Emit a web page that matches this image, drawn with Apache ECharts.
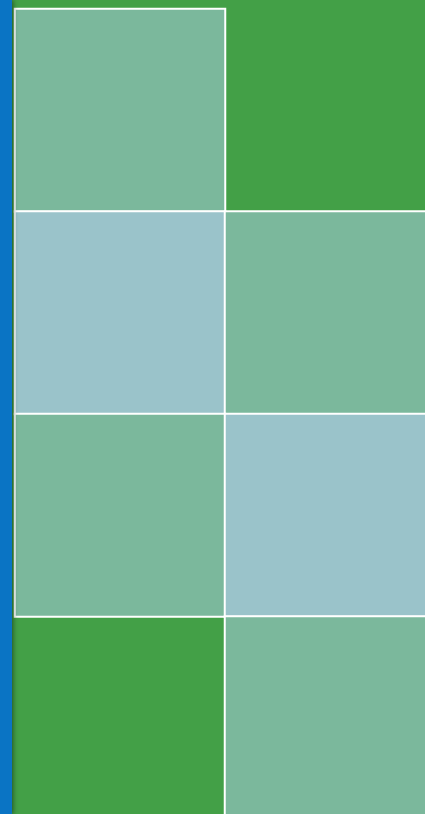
<!DOCTYPE html>
<html><head><meta charset="utf-8">
<script src="https://cdn.jsdelivr.net/npm/echarts@6/dist/echarts.min.js"></script>
<style>html,body{margin:0;padding:0;background:#43a047;}#c{width:425px;height:814px;}</style>
</head><body><div id="c"></div>
<script>
const xCategories = ['A', 'B'];
const yCategories = ['R1', 'R2', 'R3', 'R4'];
// [xIndex, yIndex, value]; value 1 = green class, 2 = blue class; missing cells are empty
const cellValues = [
  [0, 0, 1],
  [0, 1, 2], [1, 1, 1],
  [0, 2, 1], [1, 2, 2],
  [1, 3, 1]
];
const chart = echarts.init(document.getElementById('c'));
chart.setOption({
  backgroundColor: '#43a047',
  animation: false,
  grid: { left: 15, top: 9, width: 420, height: 810, outerBoundsMode: 'none', containLabel: false },
  xAxis: { type: 'category', data: xCategories, show: false },
  yAxis: { type: 'category', data: yCategories, inverse: true, show: false },
  visualMap: {
    show: false, type: 'piecewise',
    pieces: [ { value: 1, color: '#7bb89c' }, { value: 2, color: '#9ac3ca' } ]
  },
  graphic: [{
    type: 'rect', left: 0, top: 0, z: 100,
    shape: { width: 12, height: 814 },
    style: { fill: '#0a74c4', shadowBlur: 5, shadowOffsetX: 1, shadowColor: 'rgba(0,0,0,0.5)' }
  }],
  series: [{
    type: 'heatmap',
    data: cellValues,
    itemStyle: { borderColor: '#ffffff', borderWidth: 2 },
    emphasis: { disabled: true }
  }]
});
</script></body></html>
